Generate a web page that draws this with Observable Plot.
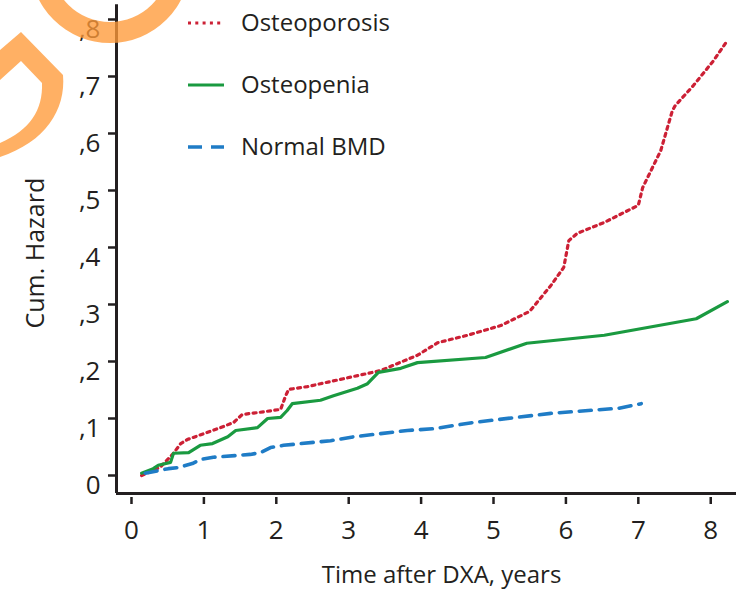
<!DOCTYPE html>
<html>
<head>
<meta charset="utf-8">
<script src="https://cdn.jsdelivr.net/npm/d3@7"></script>
<script src="https://cdn.jsdelivr.net/npm/@observablehq/plot@0.6"></script>
<style>
  html, body { margin: 0; padding: 0; background: #fff; }
  #chart { position: relative; width: 736px; height: 593px; font-family: "Open Sans", sans-serif; }
  #chart svg.overlay { position: absolute; left: 0; top: 0; pointer-events: none; }
</style>
</head>
<body>
<div id="chart"></div>
<script>
// Cumulative hazard of fracture by BMD group, years after DXA
const osteoporosisYears  = [0.14, 0.40, 0.58, 0.68, 0.77, 1.23, 1.41, 1.53, 1.78, 2.06, 2.13, 2.17, 2.43, 2.61, 3.44, 3.95, 4.23, 4.64, 5.10, 5.50, 5.79, 5.97, 6.04, 6.16, 6.53, 7.00, 7.06, 7.31, 7.47, 7.51, 7.76, 8.04, 8.23];
const osteoporosisHazard = [0.000, 0.015, 0.039, 0.056, 0.063, 0.084, 0.093, 0.107, 0.111, 0.116, 0.140, 0.151, 0.156, 0.161, 0.184, 0.211, 0.233, 0.246, 0.263, 0.288, 0.333, 0.365, 0.412, 0.425, 0.444, 0.474, 0.505, 0.570, 0.640, 0.649, 0.684, 0.728, 0.763];

const osteopeniaYears  = [0.14, 0.30, 0.37, 0.54, 0.58, 0.79, 0.95, 1.12, 1.33, 1.44, 1.74, 1.88, 2.06, 2.15, 2.22, 2.61, 2.79, 3.12, 3.26, 3.41, 3.72, 3.95, 4.89, 5.46, 6.53, 7.80, 8.23];
const osteopeniaHazard = [0.004, 0.012, 0.018, 0.023, 0.039, 0.040, 0.053, 0.056, 0.068, 0.079, 0.084, 0.100, 0.102, 0.114, 0.126, 0.132, 0.140, 0.153, 0.161, 0.181, 0.188, 0.198, 0.207, 0.232, 0.246, 0.275, 0.305];

const normalYears  = [0.19, 0.51, 0.65, 0.84, 0.95, 1.13, 1.64, 1.78, 1.92, 2.10, 2.75, 3.07, 3.81, 4.17, 4.72, 5.79, 6.73, 7.04];
const normalHazard = [0.004, 0.012, 0.014, 0.021, 0.028, 0.032, 0.037, 0.040, 0.049, 0.053, 0.061, 0.068, 0.079, 0.082, 0.093, 0.109, 0.118, 0.126];

const groups = ["Osteoporosis", "Osteopenia", "Normal BMD"];

const xTicks = [0, 1, 2, 3, 4, 5, 6, 7, 8];
const xTickLabels = ["0", "1", "2", "3", "4", "5", "6", "7", "8"];
const yTicks = [0, 0.1, 0.2, 0.3, 0.4, 0.5, 0.6, 0.7, 0.8];
const yTickLabels = ["0", ",1", ",2", ",3", ",4", ",5", ",6", ",7", ",8"];

const xLabel = "Time after DXA, years";
const yLabel = "Cum. Hazard";

// Series styles
const styles = {
  "Osteoporosis": {stroke: "#cc2035", strokeWidth: 3.2, strokeDasharray: "3 4.3"},
  "Osteopenia":   {stroke: "#1a9a40", strokeWidth: 3.2, strokeDasharray: null},
  "Normal BMD":   {stroke: "#1f7cc6", strokeWidth: 3.6, strokeDasharray: "12 8"}
};

const toRows = (years, hazard) => years.map((t, i) => ({t, h: hazard[i]}));
const series = {
  "Osteoporosis": toRows(osteoporosisYears, osteoporosisHazard),
  "Osteopenia": toRows(osteopeniaYears, osteopeniaHazard),
  "Normal BMD": toRows(normalYears, normalHazard)
};

// Scale extents (the axes sit slightly outside the data origin)
const xMin = -0.207, xMax = 8.356;
const yMin = -0.0386, yMax = 0.8333;
const yAxisAt = -0.0316;   // baseline of the horizontal axis
const yAxisTop = 0.826;    // top end of the vertical axis
const yLabelAt = 0.39;     // vertical centre of the y-axis title

const ink = "#231f20";
const fontFamily = "'Open Sans', sans-serif";

const lineMarks = groups.map(g => Plot.line(series[g], {
  x: "t", y: "h",
  stroke: styles[g].stroke,
  strokeWidth: styles[g].strokeWidth,
  strokeDasharray: styles[g].strokeDasharray,
  strokeLinejoin: "round",
  curve: "linear"
}));

const plot = Plot.plot({
  width: 736,
  height: 593,
  marginLeft: 116,
  marginRight: 0,
  marginTop: 0,
  marginBottom: 96,
  style: {fontFamily, color: ink, background: "#fff", overflow: "visible"},
  x: {domain: [xMin, xMax], label: null, axis: null},
  y: {domain: [yMin, yMax], label: null, axis: null},
  marks: [
    // vertical axis line and ticks
    Plot.ruleX([xMin], {y1: yAxisTop, y2: yAxisAt, stroke: ink, strokeWidth: 3}),
    Plot.axisY({ticks: yTicks, tickSize: 8, tickFormat: () => "", stroke: ink, strokeWidth: 2.5}),
    Plot.text(yTicks, {x: xMin, y: d => d, text: (d, i) => yTickLabels[i], textAnchor: "end",
      dx: -16, dy: 10, fontSize: 26, fill: ink}),
    // horizontal axis line and ticks
    Plot.ruleY([yAxisAt], {x1: xMin, x2: xMax, stroke: ink, strokeWidth: 3}),
    Plot.axisX({ticks: xTicks, tickSize: 7, tickFormat: () => "", stroke: ink, strokeWidth: 2.5}),
    Plot.text(xTicks, {x: d => d, y: yMin, text: (d, i) => xTickLabels[i], dy: 33, fontSize: 26, fill: ink}),
    // axis titles
    Plot.text([xLabel], {frameAnchor: "bottom", dx: 15, dy: 85, fontSize: 24, fill: ink}),
    Plot.text([yLabel], {x: xMin, y: yLabelAt, rotate: -90, dx: -81, fontSize: 25, fill: ink}),
    ...lineMarks
  ]
});

const chart = document.getElementById("chart");
chart.appendChild(plot);

// Legend and decorative emblem drawn over the plot
const ns = "http://www.w3.org/2000/svg";
const overlay = d3.select(chart).append("svg")
  .attr("class", "overlay")
  .attr("xmlns", ns)
  .attr("width", 736)
  .attr("height", 593);

const legendRows = [23, 85, 147];
groups.forEach((g, i) => {
  const row = overlay.append("g").attr("transform", `translate(188,${legendRows[i]})`);
  row.append("line")
    .attr("x1", 0).attr("x2", 36).attr("y1", 0).attr("y2", 0)
    .attr("stroke", styles[g].stroke)
    .attr("stroke-width", styles[g].strokeWidth)
    .attr("stroke-dasharray", g === "Normal BMD" ? "14 9" : styles[g].strokeDasharray);
  row.append("text")
    .attr("x", 53).attr("y", 0).attr("dy", "0.35em")
    .attr("font-family", fontFamily)
    .attr("font-size", 24)
    .attr("fill", ink)
    .text(g);
});

const emblem = overlay.append("g").attr("fill", "#ff9a38").attr("fill-opacity", 0.78);
emblem.append("path")
  .attr("fill-rule", "evenodd")
  .attr("d", d3.arc()({innerRadius: 59, outerRadius: 80, startAngle: 0, endAngle: 2 * Math.PI}))
  .attr("transform", "translate(110,-37)");
emblem.append("path")
  .attr("d", "M0,50 L21,32 L63,75 C66,110 45,142 0,157 L0,143 C30,130 43,110 42,83 L21,61 L0,80 Z");
</script>
</body>
</html>
